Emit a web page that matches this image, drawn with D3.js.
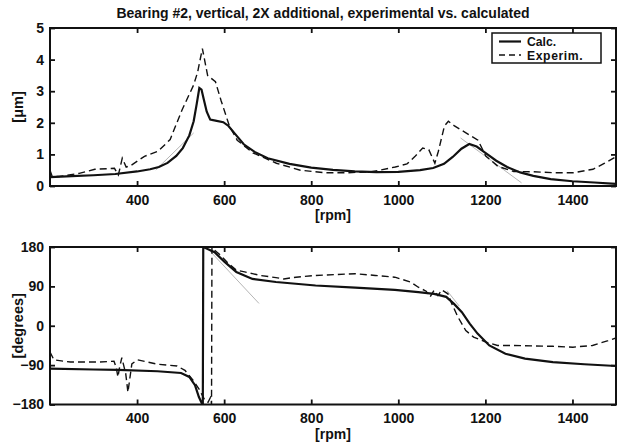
<!DOCTYPE html>
<html>
<head>
<meta charset="utf-8">
<script src="https://cdn.jsdelivr.net/npm/d3@7"></script>
<style>
  body { margin: 0; background: #fff; }
  svg text { font-family: "Liberation Sans", Arial, sans-serif; font-weight: bold; fill: #111; }
</style>
</head>
<body>
<div class="canvas"></div>
<script>
const WIDTH = 620;
const HEIGHT = 448;

// rpm range and ticks, shared by both panels
const rpmDomain = [200, 1500];
const rpmTicks = [400, 600, 800, 1000, 1200, 1400];
const ampTicks = [0, 1, 2, 3, 4, 5];
const phaseTicks = [-180, -90, 0, 90, 180];

// amplitude [um], [rpm, value]
const ampCalc = [
  [200, 0.28], [250, 0.31], [300, 0.34], [350, 0.38], [400, 0.46], [430, 0.53],
  [450, 0.6], [470, 0.73], [490, 0.95], [505, 1.2], [520, 1.6], [530, 2.05],
  [537, 2.6], [543, 3.1], [548, 3.05], [553, 2.75], [560, 2.35], [568, 2.1],
  [580, 2.07], [598, 2.02], [610, 1.9], [625, 1.65], [645, 1.32], [670, 1.08],
  [700, 0.88], [750, 0.7], [800, 0.58], [850, 0.51], [900, 0.46], [950, 0.44],
  [1000, 0.45], [1050, 0.5], [1080, 0.57], [1105, 0.7], [1125, 0.92], [1145, 1.18],
  [1163, 1.33], [1180, 1.25], [1200, 1.05], [1225, 0.8], [1250, 0.6], [1280, 0.43],
  [1310, 0.32], [1350, 0.22], [1400, 0.15], [1450, 0.11], [1500, 0.07]
];
const ampExp = [
  [200, 0.5], [205, 0.3], [221, 0.3], [267, 0.4], [303, 0.53], [348, 0.56],
  [357, 0.35], [366, 0.88], [375, 0.6], [386, 0.65], [417, 0.94], [448, 1.1],
  [476, 1.47], [503, 2.4], [530, 3.2], [539, 3.6], [550, 4.35], [562, 3.5],
  [580, 3.3], [593, 2.7], [612, 1.9], [630, 1.45], [666, 1.05], [720, 0.72],
  [775, 0.5], [830, 0.42], [884, 0.42], [938, 0.45], [993, 0.6], [1020, 0.7],
  [1038, 0.93], [1056, 1.2], [1070, 1.15], [1084, 0.72], [1092, 1.1], [1106, 1.9],
  [1115, 2.05], [1129, 1.9], [1147, 1.75], [1165, 1.6], [1183, 1.45], [1201, 0.95],
  [1229, 0.62], [1265, 0.46], [1311, 0.45], [1356, 0.42], [1402, 0.42], [1447, 0.53],
  [1474, 0.72], [1500, 0.93]
];

// phase [degrees], [rpm, value]
const phaseCalc = [
  [200, -98], [300, -100], [356, -101], [447, -104], [501, -108], [520, -117],
  [533, -136], [542, -163], [549, -178], [551, -180], [552, 180], [556, 178],
  [578, 168], [601, 146], [628, 123], [665, 107], [719, 100], [810, 92],
  [901, 87], [992, 82], [1046, 77], [1082, 73], [1110, 66], [1128, 50],
  [1146, 31], [1164, 5], [1182, -18], [1209, -45], [1246, -64], [1291, -75],
  [1355, -83], [1427, -88], [1500, -92]
];
const phaseExp = [
  [200, -60], [209, -78], [247, -83], [311, -83], [347, -81], [352, -95],
  [356, -117], [360, -94], [365, -73], [374, -110], [379, -152], [388, -87],
  [401, -78], [447, -88], [492, -92], [510, -102], [529, -125], [542, -144],
  [556, -171], [563, -175], [569, -163], [571, -180], [572, 180], [574, 176],
  [592, 161], [610, 142], [628, 127], [647, 123], [665, 119], [683, 115],
  [719, 110], [737, 107], [765, 111], [810, 115], [856, 117], [901, 119],
  [947, 115], [992, 111], [1028, 100], [1046, 88], [1064, 79], [1073, 66],
  [1082, 81], [1091, 69], [1100, 82], [1114, 73], [1123, 50], [1137, 20],
  [1155, -11], [1173, -26], [1200, -37], [1228, -45], [1264, -45], [1310, -46],
  [1355, -47], [1401, -49], [1446, -45], [1482, -34], [1500, -28]
];

// faint grey construction lines left on the original figure
const ampGuides = [
  [[443, 0.51], [530, 1.68]],
  [[1143, 1.52], [1283, 0.1]]
];
const phaseGuides = [
  [[557, 182], [680, 51]],
  [[1112, 80], [1140, 45]]
];

const svg = d3.select('.canvas')
  .append('svg')
    .attr('width', WIDTH)
    .attr('height', HEIGHT);

const x = d3.scaleLinear().domain(rpmDomain).range([50, 616]);

function panel(yDomain, yRange, yTicks, yLabel, calc, exp, guides) {
  const y = d3.scaleLinear().domain(yDomain).range(yRange);
  const g = svg.append('g');

  const clipId = 'clip' + yRange[1];
  g.append('clipPath').attr('id', clipId)
    .append('rect')
      .attr('x', x.range()[0]).attr('y', yRange[1])
      .attr('width', x.range()[1] - x.range()[0])
      .attr('height', yRange[0] - yRange[1]);

  const line = d3.line().x(d => x(d[0])).y(d => y(d[1]));
  const plot = g.append('g').attr('clip-path', `url(#${clipId})`);

  plot.selectAll('.guide')
    .data(guides)
    .enter().append('path')
      .attr('d', line)
      .attr('fill', 'none')
      .attr('stroke', '#b5b5b5')
      .attr('stroke-width', 1);

  plot.append('path')
    .datum(exp)
    .attr('d', line)
    .attr('fill', 'none')
    .attr('stroke', '#111')
    .attr('stroke-width', 1.4)
    .attr('stroke-dasharray', '7,4');

  plot.append('path')
    .datum(calc)
    .attr('d', line)
    .attr('fill', 'none')
    .attr('stroke', '#111')
    .attr('stroke-width', 2.2);

  // matlab style axes: inward ticks on all four sides
  const tickLen = 5;
  const fmt = d3.format('d');
  const xb = g.append('g').attr('transform', `translate(0,${yRange[0]})`)
    .call(d3.axisBottom(x).tickValues(rpmTicks).tickFormat(fmt).tickSizeInner(-tickLen).tickSizeOuter(0).tickPadding(9));
  const xt = g.append('g').attr('transform', `translate(0,${yRange[1]})`)
    .call(d3.axisTop(x).tickValues(rpmTicks).tickSizeInner(-tickLen).tickSizeOuter(0).tickFormat(''));
  const yl = g.append('g').attr('transform', `translate(${x.range()[0]},0)`)
    .call(d3.axisLeft(y).tickValues(yTicks).tickFormat(fmt).tickSizeInner(-tickLen).tickSizeOuter(0).tickPadding(6));
  const yr = g.append('g').attr('transform', `translate(${x.range()[1]},0)`)
    .call(d3.axisRight(y).tickValues(yTicks).tickSizeInner(-tickLen).tickSizeOuter(0).tickFormat(''));

  [xb, xt, yl, yr].forEach(a => {
    a.select('.domain').remove();
    a.selectAll('line').attr('stroke', '#111').attr('stroke-width', 1.8);
    a.selectAll('text')
      .attr('font-size', 14)
      .attr('font-family', '"Liberation Sans", Arial, sans-serif')
      .attr('font-weight', 'bold')
      .attr('fill', '#111');
  });

  g.append('rect')
    .attr('x', x.range()[0]).attr('y', yRange[1])
    .attr('width', x.range()[1] - x.range()[0])
    .attr('height', yRange[0] - yRange[1])
    .attr('fill', 'none')
    .attr('stroke', '#111')
    .attr('stroke-width', 2);

  g.append('text')
    .attr('transform', `translate(18,${(yRange[0] + yRange[1]) / 2}) rotate(-90)`)
    .attr('text-anchor', 'middle')
    .attr('dominant-baseline', 'central')
    .attr('font-size', 14.5)
    .text(yLabel);

  g.append('text')
    .attr('x', (x.range()[0] + x.range()[1]) / 2)
    .attr('y', yRange[0] + 34)
    .attr('text-anchor', 'middle')
    .attr('font-size', 14)
    .text('[rpm]');

  return y;
}

panel([0, 5], [186, 28], ampTicks, '[\u03bcm]', ampCalc, ampExp, ampGuides);
panel([-180, 180], [404.5, 247], phaseTicks, '[degrees]', phaseCalc, phaseExp, phaseGuides);

svg.append('text')
  .attr('x', 323)
  .attr('y', 18)
  .attr('text-anchor', 'middle')
  .attr('font-size', 14)
  .text('Bearing #2, vertical, 2X additional, experimental vs. calculated');

// legend
const legend = svg.append('g').attr('transform', 'translate(492,33)');
legend.append('rect')
  .attr('width', 109).attr('height', 30)
  .attr('fill', '#fff').attr('stroke', '#111').attr('stroke-width', 1.5);
const legendItems = [
  { label: 'Calc.', dash: null, width: 2.2 },
  { label: 'Experim.', dash: '6,4', width: 1.4 }
];
legendItems.forEach((d, i) => {
  const ly = 8.5 + i * 13.5;
  legend.append('line')
    .attr('x1', 7).attr('x2', 29).attr('y1', ly).attr('y2', ly)
    .attr('stroke', '#111').attr('stroke-width', d.width)
    .attr('stroke-dasharray', d.dash);
  legend.append('text')
    .attr('x', 35).attr('y', ly + 4.5)
    .attr('font-size', 12.2)
    .attr('letter-spacing', i === 1 ? 0.6 : 0)
    .text(d.label);
});
</script>
</body>
</html>
